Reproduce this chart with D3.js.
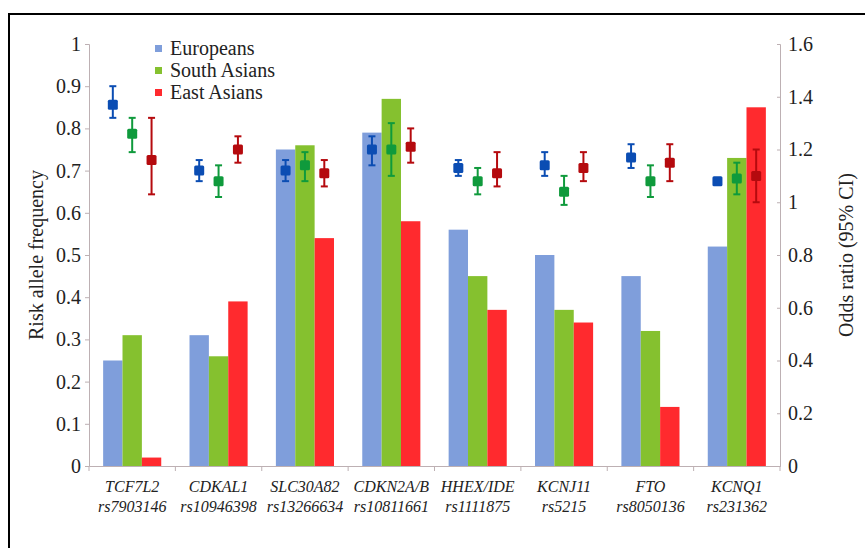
<!DOCTYPE html>
<html>
<head>
<meta charset="utf-8">
<script src="https://cdn.jsdelivr.net/npm/d3@7"></script>
</head>
<body style="margin:0">
<svg id="chart" width="865" height="548" font-family="Liberation Serif"></svg>
<script>
// Risk allele frequency (bars) and odds ratio (points) per locus
const genes = ['TCF7L2', 'CDKAL1', 'SLC30A82', 'CDKN2A/B', 'HHEX/IDE', 'KCNJ11', 'FTO', 'KCNQ1'];
const snps = ['rs7903146', 'rs10946398', 'rs13266634', 'rs10811661', 'rs1111875', 'rs5215', 'rs8050136', 'rs231362'];
const populations = ['Europeans', 'South Asians', 'East Asians'];

const freqEuropeans = [0.25, 0.31, 0.75, 0.79, 0.56, 0.50, 0.45, 0.52];
const freqSouthAsians = [0.31, 0.26, 0.76, 0.87, 0.45, 0.37, 0.32, 0.73];
const freqEastAsians = [0.02, 0.39, 0.54, 0.58, 0.37, 0.34, 0.14, 0.85];

const orEuropeans = [1.37, 1.12, 1.12, 1.20, 1.13, 1.14, 1.17, 1.08];
const loEuropeans = [1.32, 1.08, 1.08, 1.14, 1.10, 1.10, 1.13, 1.075];
const hiEuropeans = [1.44, 1.16, 1.16, 1.25, 1.16, 1.19, 1.22, 1.09];

const orSouthAsians = [1.26, 1.08, 1.14, 1.20, 1.08, 1.04, 1.08, 1.09];
const loSouthAsians = [1.19, 1.02, 1.08, 1.10, 1.03, 0.99, 1.02, 1.03];
const hiSouthAsians = [1.32, 1.14, 1.19, 1.30, 1.13, 1.10, 1.14, 1.15];

const orEastAsians = [1.16, 1.20, 1.11, 1.21, 1.11, 1.13, 1.15, 1.10];
const loEastAsians = [1.03, 1.15, 1.06, 1.15, 1.06, 1.08, 1.08, 1.00];
const hiEastAsians = [1.32, 1.25, 1.16, 1.28, 1.19, 1.19, 1.22, 1.20];

const leftTicks = [0, 0.1, 0.2, 0.3, 0.4, 0.5, 0.6, 0.7, 0.8, 0.9, 1];
const rightTicks = [0, 0.2, 0.4, 0.6, 0.8, 1, 1.2, 1.4, 1.6];

const barColors = ['#7f9edb', '#85c12f', '#ff2a2e'];
const pointColors = ['#0b4db3', '#0f9a3c', '#b50a0e'];
const axisColor = '#bdb0b3';
const FONT = 'Liberation Serif';

const width = 865, height = 548;
const margin = { left: 89, right: 85, top: 44, bottom: 82 };

const freqs = [freqEuropeans, freqSouthAsians, freqEastAsians];
const ors = [orEuropeans, orSouthAsians, orEastAsians];
const los = [loEuropeans, loSouthAsians, loEastAsians];
const his = [hiEuropeans, hiSouthAsians, hiEastAsians];

const svg = d3.select('#chart');

// outer frame
svg.append('rect')
    .attr('x', 9).attr('y', 14)
    .attr('width', width).attr('height', height)
    .attr('fill', 'none')
    .attr('stroke', '#000')
    .attr('stroke-width', 2);

const x = d3.scaleBand()
    .domain(genes)
    .range([margin.left, width - margin.right]);

const xInner = d3.scaleBand()
    .domain(populations)
    .range([0, x.bandwidth()])
    .paddingOuter(0.73)
    .paddingInner(0);

const yLeft = d3.scaleLinear()
    .domain([0, 1])
    .range([height - margin.bottom, margin.top]);

const yRight = d3.scaleLinear()
    .domain([0, 1.6])
    .range([height - margin.bottom, margin.top]);

// bars
const groups = svg.append('g').selectAll('g')
    .data(genes)
    .join('g')
    .attr('transform', d => `translate(${x(d)},0)`);

groups.selectAll('rect')
    .data((g, gi) => populations.map((p, pi) => ({ p, pi, v: freqs[pi][gi] })))
    .join('rect')
    .attr('x', d => xInner(d.p))
    .attr('width', xInner.bandwidth())
    .attr('y', d => yLeft(d.v))
    .attr('height', d => yLeft(0) - yLeft(d.v))
    .attr('fill', d => barColors[d.pi]);

// odds ratio points with CI
const pts = groups.selectAll('g.pt')
    .data((g, gi) => populations.map((p, pi) => ({
        p, pi, or: ors[pi][gi], lo: los[pi][gi], hi: his[pi][gi]
    })))
    .join('g')
    .attr('class', 'pt')
    .attr('transform', d => `translate(${xInner(d.p) + xInner.bandwidth() / 2},0)`);

pts.append('line')
    .attr('y1', d => yRight(d.lo))
    .attr('y2', d => yRight(d.hi))
    .attr('stroke', d => pointColors[d.pi])
    .attr('stroke-width', 2);

pts.selectAll('line.cap')
    .data(d => [d.lo, d.hi].map(v => ({ v, pi: d.pi })))
    .join('line')
    .attr('class', 'cap')
    .attr('x1', -3.5).attr('x2', 3.5)
    .attr('y1', d => yRight(d.v))
    .attr('y2', d => yRight(d.v))
    .attr('stroke', d => pointColors[d.pi])
    .attr('stroke-width', 2);

pts.append('rect')
    .attr('x', -5).attr('width', 10)
    .attr('y', d => yRight(d.or) - 5)
    .attr('height', 10)
    .attr('rx', 1.5)
    .attr('fill', d => pointColors[d.pi]);

// axes
const leftAxis = svg.append('g')
    .attr('transform', `translate(${margin.left},0)`)
    .call(d3.axisLeft(yLeft).tickValues(leftTicks).tickFormat(d3.format('')).tickSize(4).tickPadding(4));

const rightAxis = svg.append('g')
    .attr('transform', `translate(${width - margin.right},0)`)
    .call(d3.axisRight(yRight).tickValues(rightTicks).tickFormat(d3.format('')).tickSize(-3).tickPadding(8));

const bottomAxis = svg.append('g')
    .attr('transform', `translate(0,${height - margin.bottom})`)
    .call(d3.axisBottom(x).tickValues([]).tickSizeOuter(0));

// group separator ticks on the category axis
bottomAxis.selectAll('line.sep')
    .data(genes.concat(['end']))
    .join('line')
    .attr('class', 'sep')
    .attr('x1', (d, i) => margin.left + i * x.step())
    .attr('x2', (d, i) => margin.left + i * x.step())
    .attr('y1', 0).attr('y2', 5)
    .attr('stroke', axisColor);

[leftAxis, rightAxis, bottomAxis].forEach(a => {
    a.attr('font-family', FONT).attr('font-size', 20);
    a.selectAll('path, line').attr('stroke', axisColor);
    a.selectAll('text')
        .attr('fill', '#222')
        .attr('font-family', FONT);
});

// category labels
const xl = svg.append('g').selectAll('text')
    .data(genes)
    .join('text')
    .attr('x', d => x(d) + x.bandwidth() / 2)
    .attr('y', 492)
    .attr('text-anchor', 'middle')
    .attr('font-family', FONT)
    .attr('font-style', 'italic')
    .attr('font-size', 16)
    .attr('fill', '#222');
xl.append('tspan').text(d => d);
xl.append('tspan')
    .attr('x', d => x(d) + x.bandwidth() / 2)
    .attr('dy', 20)
    .text((d, i) => snps[i]);

// axis titles
svg.append('text')
    .attr('transform', `translate(43,${(margin.top + height - margin.bottom) / 2}) rotate(-90)`)
    .attr('text-anchor', 'middle')
    .attr('font-family', FONT)
    .attr('font-size', 20)
    .attr('fill', '#222')
    .text('Risk allele frequency');

svg.append('text')
    .attr('transform', `translate(853,${(margin.top + height - margin.bottom) / 2}) rotate(-90)`)
    .attr('text-anchor', 'middle')
    .attr('font-family', FONT)
    .attr('font-size', 20)
    .attr('fill', '#222')
    .text('Odds ratio (95% CI)');

// legend
const legend = svg.append('g')
    .attr('transform', 'translate(155,49)');
const li = legend.selectAll('g')
    .data(populations)
    .join('g')
    .attr('transform', (d, i) => `translate(0,${i * 22})`);
li.append('rect')
    .attr('x', 0).attr('y', -4)
    .attr('width', 7).attr('height', 7)
    .attr('fill', (d, i) => barColors[i]);
li.append('text')
    .attr('x', 15).attr('y', 6)
    .attr('font-family', FONT)
    .attr('font-size', 20)
    .attr('fill', '#222')
    .text(d => d);
</script>
</body>
</html>
